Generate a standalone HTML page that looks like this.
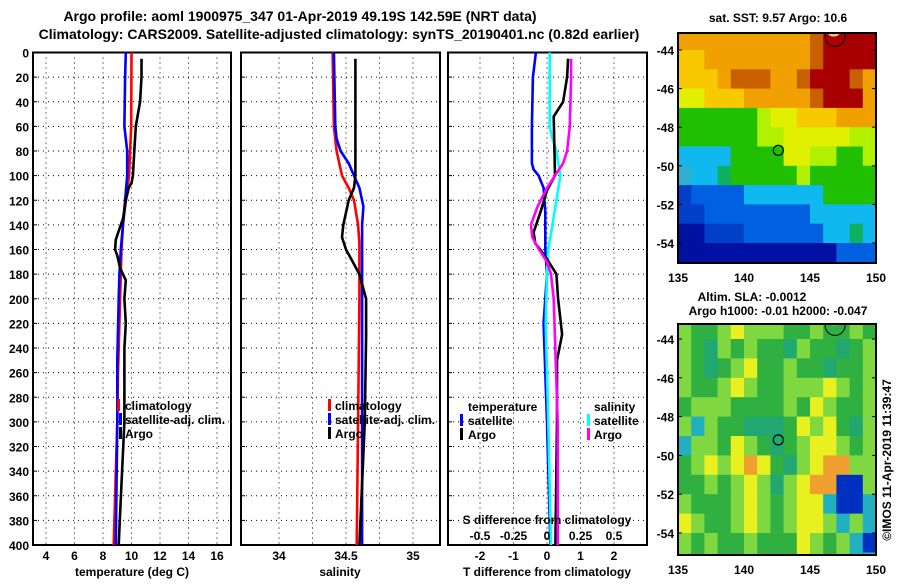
<!DOCTYPE html>
<html><head><meta charset="utf-8"><style>
body{margin:0;background:#fff;}
svg text{font-family:"Liberation Sans",sans-serif;font-weight:bold;fill:#000;}
</style></head><body>
<svg id="s" width="900" height="580" viewBox="0 0 900 580" xmlns="http://www.w3.org/2000/svg">
<text x="300" y="21" font-size="14" text-anchor="middle">Argo profile: aoml 1900975_347 01-Apr-2019 49.19S 142.59E (NRT data)</text>
<text x="339" y="39" font-size="14" text-anchor="middle">Climatology: CARS2009. Satellite-adjusted climatology: synTS_20190401.nc (0.82d earlier)</text>
<g id="g"></g>
</svg>
<script>
// ---------- data ----------
const depthTicks=[0,20,40,60,80,100,120,140,160,180,200,220,240,260,280,300,320,340,360,380,400];
const tTicks=[4,6,8,10,12,14,16];
const sTicks=[34,34.5,35];
const dTTicks=[-2,-1,0,1,2];
const dSTicks=[-0.5,-0.25,0,0.25,0.5];
const dSTickLabels=["-0.5","-0.25","0","0.25","0.5"];
const latTicks=[-44,-46,-48,-50,-52,-54];
const lonTicks=[135,140,145,150];

const climDepth=[0,60,80,100,120,140,160,200,260,300,400];
const climTemp=[10.0,9.98,9.9,9.83,9.6,9.4,9.3,9.2,9.05,9.0,8.75];
const satDepth=[0,20,60,70,80,100,120,140,160,180,200,250,300,400];
const satTemp=[9.6,9.55,9.5,9.6,9.7,9.7,9.55,9.4,9.25,9.15,9.1,9.0,9.0,8.9];
const argoDepth=[5,20,40,50,60,80,100,106,110,120,135,145,152,160,165,175,185,200,220,240,300,350,400];
const argoTemp=[10.7,10.7,10.6,10.45,10.3,10.2,10.1,10.0,9.8,9.6,9.4,9.1,8.9,8.85,9.0,9.2,9.6,9.5,9.6,9.5,9.5,9.3,9.1];

const climSalD=[0,60,80,100,110,120,140,155,200,300,400];
const climSal=[34.4,34.41,34.43,34.47,34.52,34.56,34.59,34.6,34.6,34.59,34.58];
const satSalD=[0,60,70,80,90,100,110,125,140,200,300,400];
const satSal=[34.41,34.42,34.43,34.46,34.52,34.56,34.6,34.63,34.62,34.62,34.62,34.62];
const argoSalD=[5,50,100,110,120,140,150,160,170,180,200,230,300,400];
const argoSal=[34.57,34.57,34.57,34.56,34.52,34.48,34.47,34.5,34.55,34.6,34.65,34.65,34.64,34.6];

const dTsatD=[0,20,60,90,95,100,110,130,160,180,220,260,300,400];
const dTsat=[-0.33,-0.42,-0.45,-0.45,-0.4,-0.25,-0.1,-0.05,-0.05,0,-0.1,-0.05,0,0.1];
const dTargoD=[5,20,40,52,100,112,130,146,155,163,170,180,200,229,250,300,400];
const dTargo=[0.63,0.6,0.48,0.2,0.24,0.0,-0.2,-0.4,-0.35,-0.12,0.05,0.28,0.33,0.45,0.3,0.3,0.25];
const dSsatD=[0,60,70,80,100,120,140,160,180,220,300,400];
const dSsat=[0.02,0.02,0.04,0.07,0.1,0.07,0.04,0.01,0.0,-0.01,0.01,0.03];
const dSargoD=[5,20,60,80,90,100,110,125,140,150,160,170,180,200,300,400];
const dSargo=[0.18,0.18,0.17,0.15,0.12,0.06,0.0,-0.07,-0.12,-0.11,-0.06,0.0,0.03,0.05,0.08,0.08];

const sstRows=["OOOOOOOOOOrRRRR","ooOOOOOOOOrRRRR","oooOrrrOOrRRRrO","YYoooOOOOOrRRRO","GGGGGGyYYoooOOO","GGGGGGyyYYYYYyy","CCCCGGGGYYyyGGy","cCCgGGGGGyGGGGG","bBBBBCCCCCCGGGG","bbBBBBBBBBCCCCC","NNbbbBBBBBBCCgC","NNNNNNNNNNNNBBB","NNNNNNNNNNNNNBB"];
const slaRows=["gGGgYgggGGgGGgG","gGTgGgGGTgGGTGg","gGTGgYGGgGGTGGg","gGGgYgGGgggYgGg","GgggGGGGgGYgGGg","gCgGGTTTGYgYGTg","CggGYgGTGgYYgGg","GgYgYOYGTgYOOgg","GGgGgYgTgYOOBBg","gGGGgYgGgYYCBBC","YgGGgYgGgYYgCgC","gGgGGgGGGYgGgCB","gGgGGgGGGYgGgCC"];
const argoLon=142.6, argoLat=-49.2;

// ---------- helpers ----------
const NS="http://www.w3.org/2000/svg";
const G=document.getElementById('g');
function mk(tag,attrs,parent){const e=document.createElementNS(NS,tag);for(const k in attrs)e.setAttribute(k,attrs[k]);(parent||G).appendChild(e);return e;}
const y0=52.5,y1=545;
const yD=d=>y0+(d/400)*(y1-y0);
const xT=t=>46+(t-4)*14.25;
const xS=s=>279+(s-34)*134;
const xDT=t=>547+t*33.5;
const xDS=s=>547+s*134;

function frame(x0,x1,name,gridXs){
  for(const d of depthTicks){ if(d===0||d===400)continue;
    const l=mk('line',{x1:x0,x2:x1,y1:yD(d),y2:yD(d),stroke:'#000','stroke-width':1,'stroke-dasharray':'1,4'});
    }
  for(const gx of gridXs){
    const l=mk('line',{x1:gx,x2:gx,y1:y0,y2:y1,stroke:'#000','stroke-width':1,'stroke-dasharray':'1,4'});
    }
  const r=mk('rect',{x:x0,y:y0,width:x1-x0,height:y1-y0,fill:'none',stroke:'#000','stroke-width':2});
  
  for(const d of depthTicks){
    const t=mk('line',{x1:x0,x2:x0+4,y1:yD(d),y2:yD(d),stroke:'#000'});}
}
function line(ds,vs,xf,color,name){
  const pts=ds.map((d,i)=>xf(vs[i]).toFixed(1)+','+yD(d).toFixed(1)).join(' ');
  const p=mk('polyline',{points:pts,fill:'none',stroke:color,'stroke-width':2.6,'stroke-linejoin':'miter'});
  
}
function txt(x,y,s,size,anchor,name){const t=mk('text',{x:x,y:y,'font-size':size,'text-anchor':anchor||'start'});t.textContent=s;return t;}
function mark(x,y,color){const r=mk('rect',{x:x,y:y-11,width:3,height:12,fill:color});}

// ---------- panels ----------
frame(33,231,'temperature-panel',tTicks.map(xT));
frame(241,440,'salinity-panel',[34,34.25,34.5,34.75,35].map(xS));
frame(448,647,'difference-panel',dTTicks.map(xDT));

for(const d of depthTicks) txt(29,yD(d)+5,String(d),12,'end','depth-tick-label');

line(climDepth,climTemp,xT,'#f00','temp-climatology-line');
line(satDepth,satTemp,xT,'#00f','temp-satellite-line');
line(argoDepth,argoTemp,xT,'#000','temp-argo-line');
line(climSalD,climSal,xS,'#f00','sal-climatology-line');
line(satSalD,satSal,xS,'#00f','sal-satellite-line');
line(argoSalD,argoSal,xS,'#000','sal-argo-line');
line(dTsatD,dTsat,xDT,'#00f','dt-satellite-line');
line(dSsatD,dSsat,xDS,'#0ff','ds-satellite-line');
line(dTargoD,dTargo,xDT,'#000','dt-argo-line');
line(dSargoD,dSargo,xDS,'#f0f','ds-argo-line');

for(const t of tTicks) txt(xT(t),560,String(t),12,'middle','temp-tick-label');
txt(132,576,'temperature (deg C)',12,'middle','x-axis-title-temperature');
for(const s of sTicks) txt(xS(s),560,String(s),12,'middle','sal-tick-label');
txt(340,576,'salinity',12,'middle','x-axis-title-salinity');
for(const t of dTTicks) txt(xDT(t),560,String(t),12,'middle','dt-tick-label');
txt(547,576,'T difference from climatology',12,'middle','x-axis-title-tdiff');
dSTicks.forEach((s,i)=>txt(xDS(s),540,dSTickLabels[i],12,'middle','ds-tick-label'));
txt(547,524,'S difference from climatology',12,'middle','s-diff-title');

// legends
mark(117,410,'#f00');mark(119,424,'#00f');mark(119,438,'#000');
txt(125,410,'climatology',12,'start','legend-climatology');
txt(125,424,'satellite-adj. clim.',12,'start','legend-satellite');
txt(125,438,'Argo',12,'start','legend-argo');
mark(328,410,'#f00');mark(328,424,'#00f');mark(328,438,'#000');
txt(335,410,'climatology',12,'start','legend-climatology');
txt(335,424,'satellite-adj. clim.',12,'start','legend-satellite');
txt(335,438,'Argo',12,'start','legend-argo');
txt(468,411,'temperature',12,'start','legend-temperature-header');
mark(460,425,'#00f');mark(460,439,'#000');
txt(468,425,'satellite',12,'start','legend-t-satellite');
txt(468,439,'Argo',12,'start','legend-t-argo');
txt(594,411,'salinity',12,'start','legend-salinity-header');
mark(587,425,'#0ff');mark(587,439,'#f0f');
txt(594,425,'satellite',12,'start','legend-s-satellite');
txt(594,439,'Argo',12,'start','legend-s-argo');

// ---------- maps ----------
const sstCol={R:'#a80000',r:'#c86000',O:'#f0a000',o:'#f8c800',Y:'#e0f000',y:'#b0f000',G:'#20c000',C:'#10b8f0',c:'#30b0d0',B:'#0060e0',b:'#0040c8',N:'#0010a0',g:'#10b060'};
const slaCol={G:'#30b040',g:'#80d840',Y:'#e8f020',O:'#f0a030',B:'#0030c0',C:'#20b0c0',T:'#20a870'};
function map(rows,cols,mx0,mx1,yTop,yBot,latA,yA,latB,yB,name){
  const lonX=l=>mx0+(l-135)/15*(mx1-mx0);
  const latY=l=>yA+(l-latA)/(latB-latA)*(yB-yA);
  const g=mk('g',{});
  const clip=mk('clipPath',{id:name+'-clip'},g);mk('rect',{x:mx0,y:yTop,width:mx1-mx0,height:yBot-yTop},clip);
  const cg=mk('g',{'clip-path':'url(#'+name+'-clip)'},g);
  rows.forEach((row,i)=>{for(let j=0;j<row.length;j++){
    const lat=-43-i, lon=135+j;
    const x=lonX(lon),y=latY(lat)-(i===0?30:0);
    const c=mk('rect',{x:x.toFixed(1),y:y.toFixed(1),width:(lonX(lon+1)-x+0.5).toFixed(1),height:(latY(lat-1)-y+0.5).toFixed(1),fill:cols[row[j]]},cg);
    
  }});
  const p=mk('circle',{cx:lonX(argoLon),cy:latY(argoLat),r:5,fill:'none',stroke:'#000','stroke-width':1.2},g);
  
  const co=mk('circle',{cx:lonX(146.9),cy:latY(-43.3),r:10,fill:'none',stroke:'#000','stroke-width':1},cg);
  
  const co2=mk('ellipse',{cx:lonX(146.8),cy:latY(-43.1),rx:6,ry:4,fill:'#f4b890'},cg);
  
  const fr=mk('rect',{x:mx0,y:yTop,width:mx1-mx0,height:yBot-yTop,fill:'none',stroke:'#000','stroke-width':2},g);
  
  for(const l of latTicks){const yy=latY(l);
    mk('line',{x1:mx0,x2:mx0+4,y1:yy,y2:yy,stroke:'#000'},g);mk('line',{x1:mx1-4,x2:mx1,y1:yy,y2:yy,stroke:'#000'},g);
    txt(mx0-4,yy+5,String(l),12,'end','lat-tick-label');}
  for(const l of lonTicks){txt(lonX(l),yBot+19,String(l),12,'middle','lon-tick-label');}
}
map(sstRows,sstCol,678,876,33,263,-44,50,-54,243,'sst-map');
map(slaRows,slaCol,678,876,324,555,-44,339,-54,533,'sla-map');
txt(778,22,'sat. SST: 9.57 Argo: 10.6',12,'middle','sst-map-title');
txt(752,301,'Altim. SLA: -0.0012',12,'middle','sla-map-title');
txt(778,315,'Argo h1000: -0.01 h2000: -0.047',12,'middle','sla-argo-heights');
const cr=txt(0,0,'©IMOS 11-Apr-2019 11:39:47',12,'middle','credit-label');
cr.setAttribute('font-weight','normal');
cr.setAttribute('transform','translate(891,460) rotate(-90)');
</script>
</body></html>
